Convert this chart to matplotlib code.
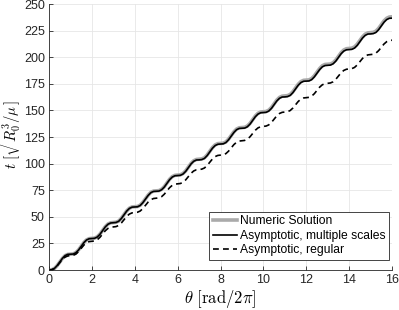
import numpy as np
import matplotlib
matplotlib.use("Agg")
from matplotlib import pyplot as plt

plt.rcParams['font.family'] = ['Liberation Sans', 'DejaVu Sans']
plt.rcParams['mathtext.fontset'] = 'cm'

# theta sampled every 1/8 of a revolution
theta = np.linspace(0, 16, 129)

# numeric solution (one row per revolution)
t_numeric = [
    0.0, 0.2, 1.4, 4.0, 7.4, 10.9, 13.5, 14.7,
    14.9, 15.1, 16.3, 18.8, 22.3, 25.8, 28.3, 29.5,
    29.8, 30.0, 31.2, 33.7, 37.2, 40.7, 43.2, 44.4,
    44.6, 44.9, 46.0, 48.6, 52.1, 55.6, 58.1, 59.3,
    59.5, 59.7, 60.9, 63.5, 66.9, 70.4, 73.0, 74.2,
    74.4, 74.6, 75.8, 78.3, 81.8, 85.3, 87.8, 89.0,
    89.3, 89.5, 90.7, 93.2, 96.7, 100.2, 102.7, 103.9,
    104.1, 104.4, 105.5, 108.1, 111.6, 115.1, 117.6, 118.8,
    119.0, 119.2, 120.4, 123.0, 126.4, 129.9, 132.5, 133.7,
    133.9, 134.1, 135.3, 137.8, 141.3, 144.8, 147.3, 148.5,
    148.8, 149.0, 150.2, 152.7, 156.2, 159.7, 162.2, 163.4,
    163.6, 163.9, 165.0, 167.6, 171.1, 174.6, 177.1, 178.3,
    178.5, 178.7, 179.9, 182.5, 185.9, 189.4, 192.0, 193.2,
    193.4, 193.6, 194.8, 197.3, 200.8, 204.3, 206.8, 208.0,
    208.3, 208.5, 209.7, 212.2, 215.7, 219.2, 221.7, 222.9,
    223.1, 223.4, 224.5, 227.1, 230.6, 234.1, 236.6, 237.8,
    238.0,
]

# asymptotic, multiple scales
t_multi = [
    0.0, 0.2, 1.4, 4.0, 7.4, 10.9, 13.5, 14.7,
    14.8, 15.0, 16.2, 18.7, 22.2, 25.7, 28.2, 29.4,
    29.6, 29.8, 31.0, 33.5, 37.0, 40.5, 43.0, 44.2,
    44.4, 44.7, 45.8, 48.4, 51.9, 55.4, 57.9, 59.1,
    59.2, 59.4, 60.6, 63.2, 66.6, 70.1, 72.7, 73.9,
    74.0, 74.2, 75.4, 77.9, 81.4, 84.9, 87.4, 88.6,
    88.8, 89.0, 90.2, 92.7, 96.2, 99.7, 102.2, 103.4,
    103.5, 103.8, 104.9, 107.5, 111.0, 114.5, 117.0, 118.2,
    118.4, 118.6, 119.8, 122.4, 125.8, 129.3, 131.9, 133.1,
    133.2, 133.4, 134.6, 137.1, 140.6, 144.1, 146.6, 147.8,
    148.0, 148.2, 149.4, 151.9, 155.4, 158.9, 161.4, 162.6,
    162.7, 163.0, 164.1, 166.7, 170.2, 173.7, 176.2, 177.4,
    177.5, 177.7, 178.9, 181.5, 184.9, 188.4, 191.0, 192.2,
    192.4, 192.6, 193.8, 196.3, 199.8, 203.3, 205.8, 207.0,
    207.2, 207.4, 208.6, 211.1, 214.6, 218.1, 220.6, 221.8,
    221.9, 222.2, 223.3, 225.9, 229.4, 232.9, 235.4, 236.6,
    236.7,
]

# asymptotic, regular
t_regular = [
    0.0, 0.3, 1.4, 3.7, 6.8, 9.9, 12.1, 13.2,
    13.5, 13.8, 14.9, 17.2, 20.3, 23.4, 25.6, 26.7,
    27.0, 27.3, 28.4, 30.7, 33.8, 36.9, 39.1, 40.2,
    40.5, 40.8, 41.9, 44.2, 47.3, 50.4, 52.6, 53.7,
    54.0, 54.3, 55.4, 57.7, 60.8, 63.9, 66.1, 67.2,
    67.5, 67.8, 68.9, 71.2, 74.3, 77.4, 79.6, 80.7,
    81.0, 81.3, 82.4, 84.7, 87.8, 90.9, 93.1, 94.2,
    94.5, 94.8, 95.9, 98.2, 101.3, 104.4, 106.6, 107.7,
    108.0, 108.3, 109.4, 111.7, 114.8, 117.9, 120.1, 121.2,
    121.5, 121.8, 122.9, 125.2, 128.3, 131.4, 133.6, 134.7,
    135.0, 135.3, 136.4, 138.7, 141.8, 144.9, 147.1, 148.2,
    148.5, 148.8, 149.9, 152.2, 155.3, 158.4, 160.6, 161.7,
    162.0, 162.3, 163.4, 165.7, 168.8, 171.9, 174.1, 175.2,
    175.5, 175.8, 176.9, 179.2, 182.3, 185.4, 187.6, 188.7,
    189.0, 189.3, 190.4, 192.7, 195.8, 198.9, 201.1, 202.2,
    202.5, 202.8, 203.9, 206.2, 209.3, 212.4, 214.6, 215.7,
    216.0,
]

fig = plt.figure(figsize=(3.99, 3.10), dpi=100)
ax = fig.add_axes([0.1228, 0.129, 0.8597, 0.858])

ax.plot(theta, t_numeric, color='#aaaaaa', lw=2.6, label='Numeric Solution')
ax.plot(theta, t_multi, color='k', lw=1.2, label='Asymptotic, multiple scales')
ax.plot(theta, t_regular, color='k', lw=1.2, ls=(0, (3.5, 2.5)), label='Asymptotic, regular')

ax.set_xlim(0, 16)
ax.set_ylim(0, 250)
ax.set_xticks(np.arange(0, 17, 2))
ax.set_yticks(np.arange(0, 251, 25))
ax.grid(True, color='#e6e6e6', lw=0.6)
ax.set_axisbelow(True)
for s in ['top', 'right']:
    ax.spines[s].set_visible(False)
for s in ['left', 'bottom']:
    ax.spines[s].set_color('#262626')
    ax.spines[s].set_linewidth(0.6)
ax.tick_params(direction='in', length=3, width=0.6, color='#262626',
               labelsize=9, labelcolor='#262626', pad=3)

ax.set_xlabel(r'$\theta\ [\mathrm{rad}/2\pi]$', fontsize=12, labelpad=1)
ax.set_ylabel(r'$t\ [\sqrt{R_0^3/\mu}]$', fontsize=10.5)
ax.yaxis.set_label_coords(-0.075, 0.51)

leg = ax.legend(loc='lower right', bbox_to_anchor=(0.991, 0.038), borderaxespad=0,
                fontsize=8.7, frameon=True, fancybox=False,
                edgecolor='#262626', framealpha=1, handlelength=2.0,
                handletextpad=0.2, borderpad=0.3, labelspacing=0.2)
leg.get_frame().set_linewidth(0.6)

fig.savefig('out.png', dpi=100)
